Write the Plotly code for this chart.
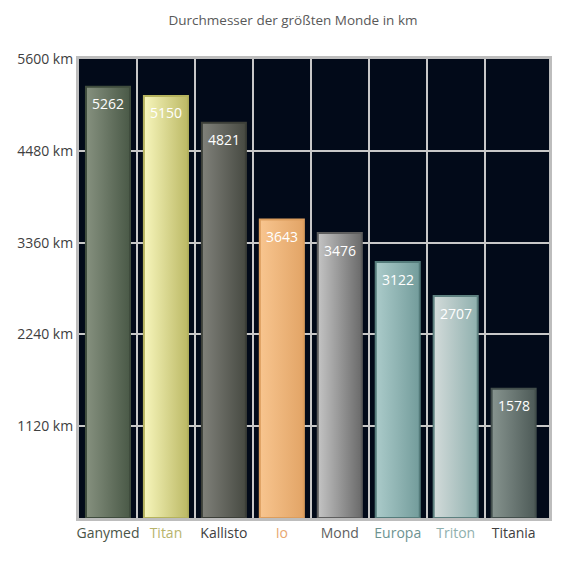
import plotly.graph_objects as go

# Daten
monde = ["Ganymed", "Titan", "Kallisto", "Io", "Mond", "Europa", "Triton", "Titania"]
durchmesser = [5262, 5150, 4821, 3643, 3476, 3122, 2707, 1578]
y_ticks = [0, 1120, 2240, 3360, 4480, 5600]
y_labels = ["", "1120 km", "2240 km", "3360 km", "4480 km", "5600 km"]

# Farben (links hell -> rechts dunkel), Rahmen, Beschriftung
farbe_links = ["#86917f", "#f7f6bc", "#80817a", "#f8c58f", "#c4c4c4", "#abcbca", "#d3dbda", "#87948f"]
farbe_rechts = ["#4a5947", "#bcb965", "#474a42", "#e2a466", "#6a6a6a", "#739c9b", "#8fb0ae", "#4d5a57"]
rahmen = ["#3f4c3d", "#b5b35e", "#3c3f38", "#dc9e5e", "#5e5e5e", "#557c7b", "#5d807f", "#434f4c"]
label_farbe = ["#4a5548", "#b8b46c", "#404040", "#e8a870", "#606060", "#6d9391", "#90b0ae", "#404040"]

halb = 0.38
fig = go.Figure()
for i, (name, wert) in enumerate(zip(monde, durchmesser)):
    xs = [i - halb, i + halb, i + halb, i - halb, i - halb]
    ys = [0, 0, wert, wert, 0]
    fig.add_trace(go.Scatter(
        x=xs, y=ys, mode="lines", fill="toself",
        fillgradient=dict(type="horizontal",
                          colorscale=[[0, farbe_links[i]], [1, farbe_rechts[i]]]),
        line=dict(color=rahmen[i], width=2),
        name=name, hoverinfo="skip", showlegend=False,
    ))
    fig.add_annotation(x=i, y=wert, text=str(wert), showarrow=False,
                       yshift=-17, font=dict(color="white", size=14, family="Open Sans"))

tick_text = [f"<span style='color:{c}'>{m}</span>" for m, c in zip(monde, label_farbe)]

# Seite hat 8px Rand -> Plotbereich entsprechend verschoben
fig.update_layout(
    width=570, height=570,
    margin=dict(l=71, r=29, t=51, b=60),
    paper_bgcolor="white",
    plot_bgcolor="#020a19",
    title=dict(text="Durchmesser der größten Monde in km", x=0.5, xanchor="center",
               y=1 - 12 / 570, yanchor="middle",
               font=dict(size=13.5, color="#595959", family="Open Sans")),
    font=dict(family="Open Sans", size=14, color="#404040"),
)
fig.update_xaxes(
    range=[-0.5, 7.61], tickvals=list(range(len(monde))), ticktext=tick_text,
    showgrid=False, zeroline=False, ticks="", automargin=False,
    showline=True, mirror=True, linecolor="#bdbdbd", linewidth=3,
    minor=dict(tickvals=[k + 0.5 for k in range(len(monde) - 1)], showgrid=True,
               gridcolor="#c8c8c8", gridwidth=2, ticks=""),
    tickfont=dict(size=14),
)
fig.update_yaxes(
    range=[0, 5600], tickvals=y_ticks, ticktext=y_labels,
    showgrid=True, gridcolor="#c8c8c8", gridwidth=2, zeroline=False, ticks="",
    automargin=False,
    showline=True, mirror=True, linecolor="#bdbdbd", linewidth=3,
    tickfont=dict(size=14), ticksuffix=" ",
)

fig.write_html("out.html")
